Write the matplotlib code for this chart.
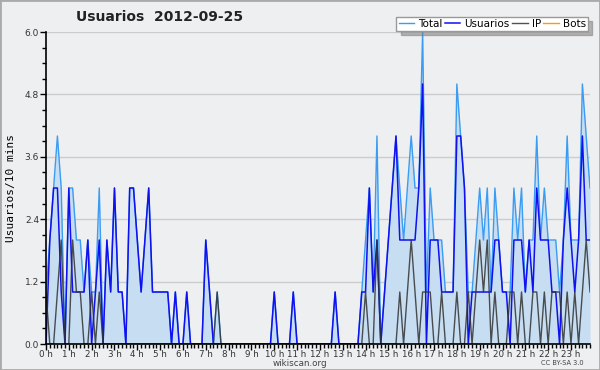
import numpy as np
import matplotlib
matplotlib.use("Agg")
import matplotlib.pyplot as plt
from matplotlib.patches import Rectangle
from matplotlib.ticker import MultipleLocator, FormatStrFormatter

# values per 10 minutes, one row per hour
usuarios = [
    0, 2, 3, 3, 1, 0,
    3, 1, 1, 1, 1, 2,
    0, 1, 2, 0, 2, 1,
    3, 1, 1, 0, 3, 3,
    2, 1, 2, 3, 1, 1,
    1, 1, 1, 0, 1, 0,
    0, 1, 0, 0, 0, 0,
    2, 1, 0, 0, 0, 0,
    0, 0, 0, 0, 0, 0,
    0, 0, 0, 0, 0, 0,
    1, 0, 0, 0, 0, 1,
    0, 0, 0, 0, 0, 0,
    0, 0, 0, 0, 1, 0,
    0, 0, 0, 0, 0, 1,
    1, 3, 1, 2, 0, 1,
    2, 3, 4, 2, 2, 2,
    2, 2, 3, 5, 0, 2,
    2, 2, 1, 1, 1, 1,
    4, 4, 3, 0, 1, 1,
    1, 1, 1, 1, 2, 2,
    1, 1, 0, 2, 2, 2,
    1, 2, 1, 3, 2, 2,
    2, 1, 1, 0, 2, 3,
    2, 1, 2, 4, 2, 2,
]
ip = [
    1, 0, 0, 1, 2, 0,
    0, 2, 1, 1, 0, 0,
    1, 0, 1, 0, 0, 0,
    0, 0, 0, 0, 0, 0,
    0, 0, 0, 0, 0, 0,
    0, 0, 0, 0, 0, 0,
    0, 0, 0, 0, 0, 0,
    0, 0, 0, 1, 0, 0,
    0, 0, 0, 0, 0, 0,
    0, 0, 0, 0, 0, 0,
    0, 0, 0, 0, 0, 0,
    0, 0, 0, 0, 0, 0,
    0, 0, 0, 0, 0, 0,
    0, 0, 0, 0, 0, 0,
    1, 0, 0, 2, 0, 0,
    0, 0, 0, 1, 0, 1,
    2, 1, 0, 1, 1, 1,
    0, 0, 1, 0, 0, 0,
    1, 0, 0, 1, 0, 1,
    2, 1, 2, 0, 1, 0,
    0, 0, 1, 1, 0, 1,
    0, 0, 1, 1, 0, 1,
    0, 1, 1, 1, 0, 1,
    0, 1, 0, 1, 2, 1,
]
total = [
    1, 2, 3, 4, 3, 0,
    3, 3, 2, 2, 1, 2,
    1, 1, 3, 0, 2, 1,
    3, 1, 1, 0, 3, 3,
    2, 1, 2, 3, 1, 1,
    1, 1, 1, 0, 1, 0,
    0, 1, 0, 0, 0, 0,
    2, 1, 0, 1, 0, 0,
    0, 0, 0, 0, 0, 0,
    0, 0, 0, 0, 0, 0,
    1, 0, 0, 0, 0, 1,
    0, 0, 0, 0, 0, 0,
    0, 0, 0, 0, 1, 0,
    0, 0, 0, 0, 0, 1,
    2, 3, 1, 4, 0, 1,
    2, 3, 4, 3, 2, 3,
    4, 3, 3, 6, 1, 3,
    2, 2, 2, 1, 1, 1,
    5, 4, 3, 1, 1, 2,
    3, 2, 3, 1, 3, 2,
    1, 1, 1, 3, 2, 3,
    1, 2, 2, 4, 2, 3,
    2, 2, 2, 1, 2, 4,
    2, 2, 2, 5, 4, 3,
]
bots = [0] * 144
hour_labels = [f"{h} h" for h in range(24)]

bg = "#eeeff1"
fig = plt.figure(figsize=(6.0, 3.7), dpi=100, facecolor=bg)
ax = fig.add_axes([46 / 600, 1 - 344 / 370, 544 / 600, 312 / 370], facecolor=bg)

x = np.arange(len(total))
ax.fill_between(x, total, 0, color="#c7ddf1", lw=0, zorder=1)
ax.plot(x, total, color="#3a9cf2", lw=1.0, zorder=3, label="Total")
ax.plot(x, usuarios, color="#1010f0", lw=1.1, zorder=4, label="Usuarios")
ax.plot(x, ip, color="#333333", lw=1.0, alpha=0.85, zorder=5, label="IP")
ax.plot(x, bots, color="#ff9900", lw=1.0, zorder=2, label="Bots")

ax.set_xlim(0, 143)
ax.set_ylim(0, 6)
ax.yaxis.set_major_locator(MultipleLocator(1.2))
ax.yaxis.set_minor_locator(MultipleLocator(0.3))
ax.yaxis.set_major_formatter(FormatStrFormatter("%.1f"))
ax.set_xticks(np.arange(0, 144, 6))
ax.set_xticklabels(hour_labels)
ax.xaxis.set_minor_locator(MultipleLocator(1))
ax.tick_params(axis="both", which="major", length=4, width=1,
               colors="black", labelcolor="#333333", pad=1)
ax.tick_params(axis="x", which="major", labelsize=6.3, pad=0.5)
ax.tick_params(axis="y", which="major", labelsize=6.5)
ax.tick_params(axis="both", which="minor", length=3, width=1, colors="black")
ax.grid(axis="y", which="major", color="#cccccc", lw=1, zorder=0)
ax.set_axisbelow(True)
for s in ["top", "right"]:
    ax.spines[s].set_visible(False)
for s in ["left", "bottom"]:
    ax.spines[s].set_linewidth(1.2)
    ax.spines[s].set_zorder(6)

ax.set_ylabel("Usuarios/10 mins", family="DejaVu Sans Mono", fontsize=8, labelpad=6)

fig.text(160 / 600, 1 - 17 / 370, "Usuarios  2012-09-25", ha="center", va="center",
         fontsize=10, fontweight="bold", color="#222222")
fig.text(300 / 600, 1 - 363 / 370, "wikiscan.org", ha="center", va="center",
         fontsize=6.3, color="#444444")
fig.text(562 / 600, 1 - 363 / 370, "CC BY-SA 3.0", ha="center", va="center",
         fontsize=4.8, color="#444444")

leg = ax.legend(loc="upper right", bbox_to_anchor=(588 / 600, 1 - 17 / 370),
                bbox_transform=fig.transFigure, ncol=4, fontsize=7.5,
                frameon=True, fancybox=False,
                shadow={"color": "#777777", "ox": 3, "oy": -3},
                handlelength=1.5, handletextpad=0.4, columnspacing=0.2,
                borderpad=0.2, borderaxespad=0)
leg.get_frame().set_edgecolor("#999999")
leg.get_frame().set_facecolor("white")
leg.get_frame().set_alpha(1)
leg.set_zorder(10)

fig.patches.append(Rectangle((0, 0), 1, 1, transform=fig.transFigure, fill=False,
                             edgecolor="#aaaaaa", lw=2))

fig.savefig("out.png", dpi=100, facecolor=bg)
